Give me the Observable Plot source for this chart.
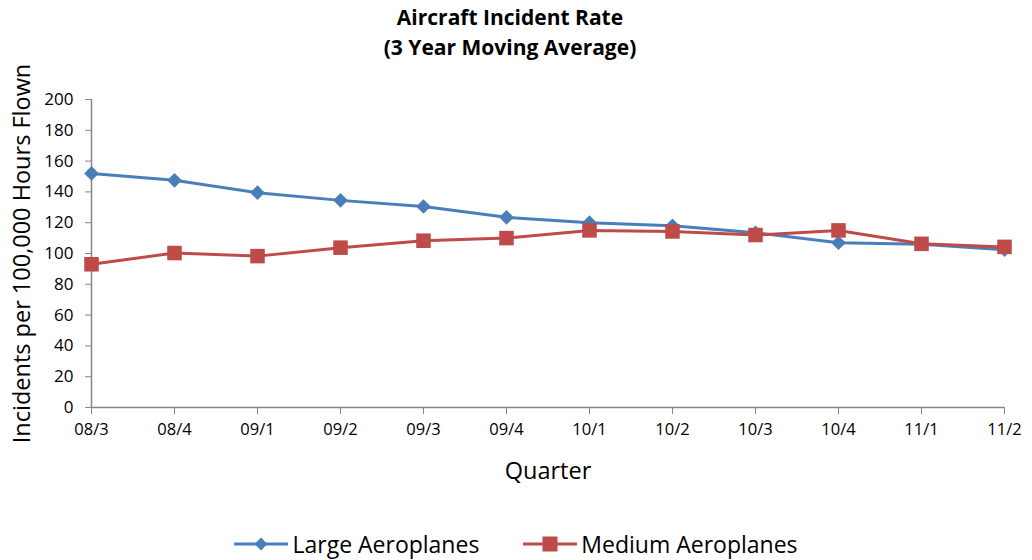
<!DOCTYPE html>
<html>
<head>
<meta charset="utf-8">
<script src="https://cdn.jsdelivr.net/npm/d3@7"></script>
<script src="https://cdn.jsdelivr.net/npm/@observablehq/plot@0.6"></script>
<style>
  body { margin: 0; background: #fff; font-family: "Open Sans", sans-serif; position: relative; }
  #title { position: absolute; left: 0; top: 0; width: 1032px; z-index: 1; box-sizing: border-box; padding-top: 2px;
           text-align: center; padding-right: 12px;
           font-weight: bold; font-size: 21px; line-height: 30px; color: #000; }
  #chart { height: 460px; padding-top: 40px; }
  #legend { display: flex; justify-content: center; align-items: center; gap: 44px; margin-top: 28px;
            font-size: 23px; color: #000; padding-left: 0px; }
  #legend .item { display: flex; align-items: center; gap: 4px; }
</style>
</head>
<body>
<div id="title">Aircraft Incident Rate<br>(3 Year Moving Average)</div>
<div id="chart"></div>
<div id="legend"></div>
<script>
const quarters = ["08/3","08/4","09/1","09/2","09/3","09/4","10/1","10/2","10/3","10/4","11/1","11/2"];
const largeValues = [152, 147.5, 139.5, 134.5, 130.5, 123.5, 120, 118, 113.5, 107, 106, 102.5];
const mediumValues = [93, 100.3, 98.3, 103.8, 108.3, 110, 115, 114.3, 112, 115, 106.3, 104.3];
const seriesNames = ["Large Aeroplanes", "Medium Aeroplanes"];
const seriesColors = ["#4a7ebb", "#be4b48"];
const yTicks = [0, 20, 40, 60, 80, 100, 120, 140, 160, 180, 200];

const data = [];
quarters.forEach((q, i) => {
  data.push({quarter: q, value: largeValues[i], series: seriesNames[0]});
  data.push({quarter: q, value: mediumValues[i], series: seriesNames[1]});
});
const large = data.filter(d => d.series === seriesNames[0]);
const medium = data.filter(d => d.series === seriesNames[1]);

const axisGray = "#868686";
const plot = Plot.plot({
  width: 1032,
  height: 460,
  marginLeft: 91,
  marginRight: 28,
  marginTop: 59,
  marginBottom: 93,
  style: {fontFamily: "'Open Sans', sans-serif", background: "transparent", color: "#000"},
  x: {type: "point", domain: quarters, padding: 0},
  y: {domain: [0, 200]},
  marks: [
    Plot.ruleY([0], {stroke: axisGray, strokeWidth: 1.5}),
    Plot.ruleX([quarters[0]], {stroke: axisGray, strokeWidth: 1.5}),
    Plot.axisX({ticks: quarters, tickSize: 7, tickPadding: 9, stroke: axisGray, fill: "#000", fontSize: 16.5, label: null}),
    Plot.axisY({ticks: yTicks, tickSize: 6, tickPadding: 12, stroke: axisGray, fill: "#000", fontSize: 17, label: null}),
    Plot.text(["Incidents per 100,000 Hours Flown"], {frameAnchor: "left", dx: -69, rotate: -90, fontSize: 23.5, textAnchor: "middle", lineAnchor: "middle", fill: "#000"}),
    Plot.text(["Quarter"], {frameAnchor: "bottom", dy: 64, fontSize: 23.5, textAnchor: "middle", lineAnchor: "middle", fill: "#000"}),
    Plot.line(large, {x: "quarter", y: "value", stroke: seriesColors[0], strokeWidth: 3}),
    Plot.line(medium, {x: "quarter", y: "value", stroke: seriesColors[1], strokeWidth: 3}),
    Plot.dot(large, {x: "quarter", y: "value", symbol: "diamond2", r: 6.6, fill: seriesColors[0], stroke: "none"}),
    Plot.dot(medium, {x: "quarter", y: "value", symbol: "square", r: 8.2, fill: seriesColors[1], stroke: "none"})
  ]
});
document.getElementById("chart").appendChild(plot);

const legend = document.getElementById("legend");
const markerSvgs = [
  `<svg width="54" height="16"><line x1="0" y1="8" x2="54" y2="8" stroke="${seriesColors[0]}" stroke-width="3"/><path d="M27,1.5 L33.5,8 L27,14.5 L20.5,8 Z" fill="${seriesColors[0]}"/></svg>`,
  `<svg width="54" height="16"><line x1="0" y1="8" x2="54" y2="8" stroke="${seriesColors[1]}" stroke-width="3"/><rect x="19.5" y="0.5" width="15" height="15" fill="${seriesColors[1]}"/></svg>`
];
seriesNames.forEach((name, i) => {
  const item = document.createElement("div");
  item.className = "item";
  item.innerHTML = markerSvgs[i] + `<span>${name}</span>`;
  legend.appendChild(item);
});
</script>
</body>
</html>
